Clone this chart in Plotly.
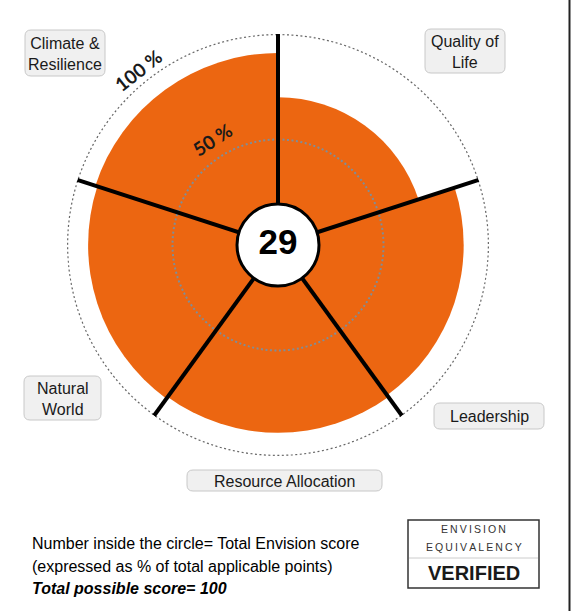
import plotly.graph_objects as go

# sector data (clockwise, starting from the top)
categories = ["Quality of Life", "Leadership", "Resource Allocation", "Natural World", "Climate & Resilience"]
scores = [70, 88, 89, 90, 91]          # % achieved per credit category
total_score = 29                         # number inside the circle
ring_levels = [50, 100]
ring_labels = ["50 %", "100 %"]

W, H = 573, 611
ORANGE = "#EC6611"
FONT = "Liberation Sans, Arial, sans-serif"


def px(x):
    return x / W


def py(y):
    return 1 - y / H


def rounded_box(x0, y0, x1, y1, r=6):
    # rounded rect path, pixel coords -> paper coords
    p = [
        f"M {px(x0 + r)},{py(y0)}",
        f"L {px(x1 - r)},{py(y0)}",
        f"Q {px(x1)},{py(y0)} {px(x1)},{py(y0 + r)}",
        f"L {px(x1)},{py(y1 - r)}",
        f"Q {px(x1)},{py(y1)} {px(x1 - r)},{py(y1)}",
        f"L {px(x0 + r)},{py(y1)}",
        f"Q {px(x0)},{py(y1)} {px(x0)},{py(y1 - r)}",
        f"L {px(x0)},{py(y0 + r)}",
        f"Q {px(x0)},{py(y0)} {px(x0 + r)},{py(y0)}",
        "Z",
    ]
    return dict(type="path", xref="paper", yref="paper", path=" ".join(p),
                fillcolor="#F0F0F0", line=dict(color="#C8C8C8", width=1), layer="above")


n = len(categories)
step = 360 / n
thetas = [step * i + step / 2 for i in range(n)]

fig = go.Figure()

fig.add_trace(go.Barpolar(
    r=scores, theta=thetas, width=[step] * n,
    marker=dict(color=ORANGE, line=dict(width=0)),
    hoverinfo="skip",
))

# dotted reference rings
ring_theta = [i * 2 for i in range(181)]
fig.add_trace(go.Scatterpolar(
    r=[ring_levels[0]] * len(ring_theta), theta=ring_theta, mode="lines",
    line=dict(color="#7E8E99", width=2, dash="2px,2.5px"), hoverinfo="skip",
))
fig.add_trace(go.Scatterpolar(
    r=[ring_levels[1]] * len(ring_theta), theta=ring_theta, mode="lines",
    line=dict(color="#666666", width=2.4, dash="2px,2.5px"), hoverinfo="skip",
))

# sector separators
for i in range(n):
    fig.add_trace(go.Scatterpolar(
        r=[0, ring_levels[1]], theta=[step * i, step * i], mode="lines",
        line=dict(color="black", width=4), hoverinfo="skip",
    ))

# centre disc with total score
fig.add_trace(go.Scatterpolar(
    r=[0], theta=[0], mode="markers+text",
    marker=dict(size=82, color="white", line=dict(color="black", width=3)),
    text=[f"<b>{total_score}</b>"], textposition="middle center",
    textfont=dict(family=FONT, size=35, color="black"),
    hoverinfo="skip",
))

shapes = []
annotations = []

# category label boxes
label_boxes = {
    "Climate & Resilience": (25, 30, 105, 76, "Climate &amp;<br>Resilience"),
    "Quality of Life": (425, 29, 505, 73, "Quality of<br>Life"),
    "Natural World": (24, 376, 101, 420, "Natural<br>World"),
    "Leadership": (434, 403, 544, 429, "Leadership"),
    "Resource Allocation": (187, 470, 382, 491, "Resource Allocation"),
}
for cat in categories:
    x0, y0, x1, y1, txt = label_boxes[cat]
    shapes.append(rounded_box(x0, y0, x1, y1))
    annotations.append(dict(
        x=px((x0 + x1) / 2), y=py((y0 + y1) / 2 + 1), xref="paper", yref="paper",
        text=txt, showarrow=False, xanchor="center", yanchor="middle",
        font=dict(family=FONT, size=16, color="#1A1A1A"),
    ))

# ring labels
ring_label_pos = [(212, 139, -33), (138, 71, -38)]
for lab, (x, y, ang) in zip(ring_labels, ring_label_pos):
    annotations.append(dict(
        x=px(x), y=py(y), xref="paper", yref="paper", text=f"<b>{lab}</b>",
        showarrow=False, textangle=ang, xanchor="center", yanchor="middle",
        font=dict(family="Lato, Open Sans, sans-serif", size=19, color="#1A1A1A"),
    ))

# footnote
notes = [
    ("Number inside the circle= Total Envision score", 543),
    ("(expressed as % of total applicable points)", 566),
    ("<b><i>Total possible score= 100</i></b>", 588),
]
for txt, y in notes:
    annotations.append(dict(
        x=px(30), y=py(y), xref="paper", yref="paper", text=txt, showarrow=False,
        xanchor="left", yanchor="middle", font=dict(family=FONT, size=16, color="black"),
    ))

# verified badge
shapes.append(dict(type="rect", xref="paper", yref="paper",
                   x0=px(408), x1=px(539), y0=py(520), y1=py(588),
                   line=dict(color="#333", width=1.5), fillcolor="white"))
shapes.append(dict(type="line", xref="paper", yref="paper",
                   x0=px(409), x1=px(538), y0=py(558), y1=py(558),
                   line=dict(color="#CCCCCC", width=1)))
thin = "\u2009"
badge = [
    (thin.join("ENVISION"), 529, 10.5, "#333"),
    (thin.join("EQUIVALENCY"), 547, 10.5, "#333"),
    ("<b>VERIFIED</b>", 573, 20, "#1A1A1A"),
]
for txt, y, sz, col in badge:
    annotations.append(dict(
        x=px(473.5), y=py(y), xref="paper", yref="paper", text=txt, showarrow=False,
        xanchor="center", yanchor="middle", font=dict(family=FONT, size=sz, color=col),
    ))

# right frame edge
shapes.append(dict(type="line", xref="paper", yref="paper",
                   x0=px(569.5), x1=px(569.5), y0=0, y1=1,
                   line=dict(color="#222", width=2)))

fig.update_layout(
    width=W, height=H,
    margin=dict(l=0, r=0, t=0, b=0),
    paper_bgcolor="white",
    showlegend=False,
    polar=dict(
        domain=dict(x=[px(67), px(489)], y=[py(456), py(34)]),
        bgcolor="white",
        radialaxis=dict(range=[0, 100], visible=False),
        angularaxis=dict(visible=False, direction="clockwise", rotation=90),
    ),
    shapes=shapes,
    annotations=annotations,
)

fig.write_html(
    "out.html",
    config={"displayModeBar": False},
    post_script="document.body.style.margin='0';document.body.style.overflow='hidden';",
)
